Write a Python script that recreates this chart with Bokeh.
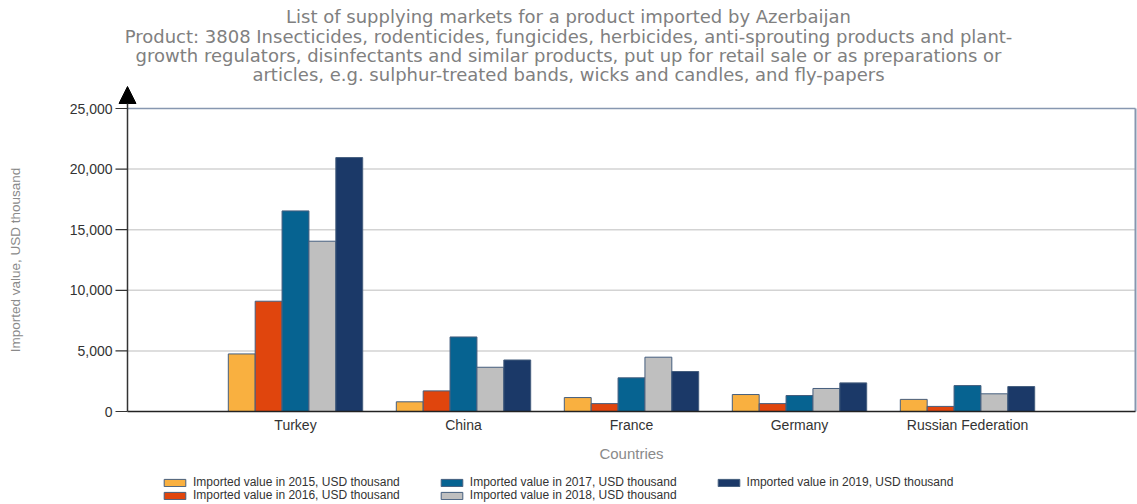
import math
from bokeh.plotting import figure
from bokeh.models import ColumnDataSource, Legend, LegendItem, Arrow, NormalHead
from bokeh.core.properties import value
from bokeh.transform import dodge
from bokeh.embed import file_html
from bokeh.resources import INLINE

countries = ["Turkey", "China", "France", "Germany", "Russian Federation"]
v2015 = [4750, 800, 1150, 1400, 1000]
v2016 = [9100, 1700, 650, 650, 420]
v2017 = [16550, 6150, 2780, 1320, 2140]
v2018 = [14050, 3650, 4480, 1900, 1460]
v2019 = [20950, 4250, 3300, 2360, 2060]
years = ["2015", "2016", "2017", "2018", "2019"]
colors = ["#f9b040", "#e0450d", "#066391", "#bfbfbf", "#1b3968"]
y_ticks = [0, 5000, 10000, 15000, 20000, 25000]
y_tick_labels = ["0", "5,000", "10,000", "15,000", "20,000", "25,000"]

title_lines = [
    "List of supplying markets for a product imported by Azerbaijan",
    "Product: 3808 Insecticides, rodenticides, fungicides, herbicides, anti-sprouting products and plant-",
    "growth regulators, disinfectants and similar products, put up for retail sale or as preparations or",
    "articles, e.g. sulphur-treated bands, wicks and candles, and fly-papers",
]
x_title = "Countries"
y_title = "Imported value, USD thousand"
legend_labels = ["Imported value in %s, USD thousand" % y for y in years]

# ---------------- layout geometry (pixels) ----------------
W, H = 1137, 504
axis_px = 127          # pixel column of x = 0 (the y axis)
px_x = 168.0           # pixels per category slot
zero_px = 411          # pixel row of y = 0
px_y = 303.0 / y_ticks[-1]
x_lo = -axis_px / px_x
x_hi = x_lo + W / px_x
y_top = zero_px * 1.0 / px_y
y_bot = -(H - zero_px) / px_y

pos = list(range(1, len(countries) + 1))
ymax = y_ticks[-1]
xmax = len(countries) + 1

src = ColumnDataSource(dict(x=pos, y2015=v2015, y2016=v2016, y2017=v2017, y2018=v2018, y2019=v2019,
                            name=countries, zero=[0] * len(pos)))

p = figure(width=W, height=H, output_backend="svg", toolbar_location=None, title=None,
           x_range=(x_lo, x_hi), y_range=(y_bot, y_top), x_axis_location=None, y_axis_location=None,
           min_border_left=0, min_border_right=0, min_border_top=0, min_border_bottom=0)
p.outline_line_color = None
p.xgrid.visible = False
p.ygrid.visible = False

LAB = value("Liberation Sans")

# ---------------- title ----------------
title_center = (568 - axis_px) / px_x
title_rows = [16, 35.5, 55, 73.5]
for line, off in zip(title_lines, title_rows):
    p.text(x=[title_center], y=[y_top], text=[line], y_offset=off, text_align="center",
           text_baseline="middle", text_font=value("DejaVu Sans"), text_font_size="18px",
           text_color="#808080")

# ---------------- grid + frame lines ----------------
inner = y_ticks[1:-1]
p.segment(x0=[0] * len(inner), y0=inner, x1=[xmax] * len(inner), y1=inner,
          line_color="#d3d3d3", line_width=1.5)

renderers = []
offsets = [-0.32, -0.16, 0.0, 0.16, 0.32]
for yr, off, col in zip(years, offsets, colors):
    r = p.vbar(x=dodge("x", off, range=p.x_range), top="y" + yr, width=0.16, source=src,
               fill_color=col, line_color="#455e7e", line_width=1)
    renderers.append(r)

p.segment(x0=[0], y0=[ymax], x1=[xmax], y1=[ymax], line_color="#8797b0", line_width=1.5)
p.segment(x0=[xmax], y0=[0], x1=[xmax], y1=[ymax], line_color="#8797b0", line_width=2)
p.segment(x0=[0], y0=[0], x1=[xmax], y1=[0], line_color="#222222", line_width=1.5)

# ---------------- y axis ----------------
tick_len = 12 / px_x
p.segment(x0=[-tick_len] * len(y_ticks), y0=y_ticks, x1=[0] * len(y_ticks), y1=y_ticks,
          line_color="#333333", line_width=1.2)
p.text(x=[0] * len(y_ticks), y=y_ticks, text=y_tick_labels, x_offset=-15, text_align="right",
       text_baseline="middle", text_font=LAB, text_font_size="14px", text_color="#333333")
p.add_layout(Arrow(end=NormalHead(size=17, fill_color="black", line_color="black"),
                   x_start=0, y_start=0, x_end=0, y_end=(zero_px - 86) / px_y,
                   line_color="#333333", line_width=1.5))
p.text(x=[(15 - axis_px) / px_x], y=[ymax / 2], text=[y_title], angle=math.pi / 2,
       text_align="center", text_baseline="middle", text_font=LAB, text_font_size="13.5px",
       text_color="#8a8a8a")

# ---------------- x axis labels ----------------
p.text(x="x", y="zero", text="name", source=src, y_offset=13, text_align="center",
       text_baseline="middle", text_font=LAB, text_font_size="14px", text_color="#333333")
p.text(x=[xmax / 2], y=[0], text=[x_title], y_offset=42, text_align="center",
       text_baseline="middle", text_font=LAB, text_font_size="15px", text_color="#8a8a8a")

# ---------------- legend ----------------
rows = [[0, 2, 4], [1, 3]]
for k, row in enumerate(rows):
    leg = Legend(items=[LegendItem(label=legend_labels[i], renderers=[renderers[i]]) for i in row],
                 orientation="horizontal", location=(161, 15 - 13 * k),
                 padding=0, margin=0, spacing=38, label_standoff=5,
                 glyph_width=27, glyph_height=9, label_height=12,
                 label_text_font="Liberation Sans", label_text_font_size="12px",
                 label_text_color="#333333", background_fill_alpha=0, border_line_color=None)
    p.add_layout(leg, "center")

open("out.html", "w").write(file_html(p, INLINE))
